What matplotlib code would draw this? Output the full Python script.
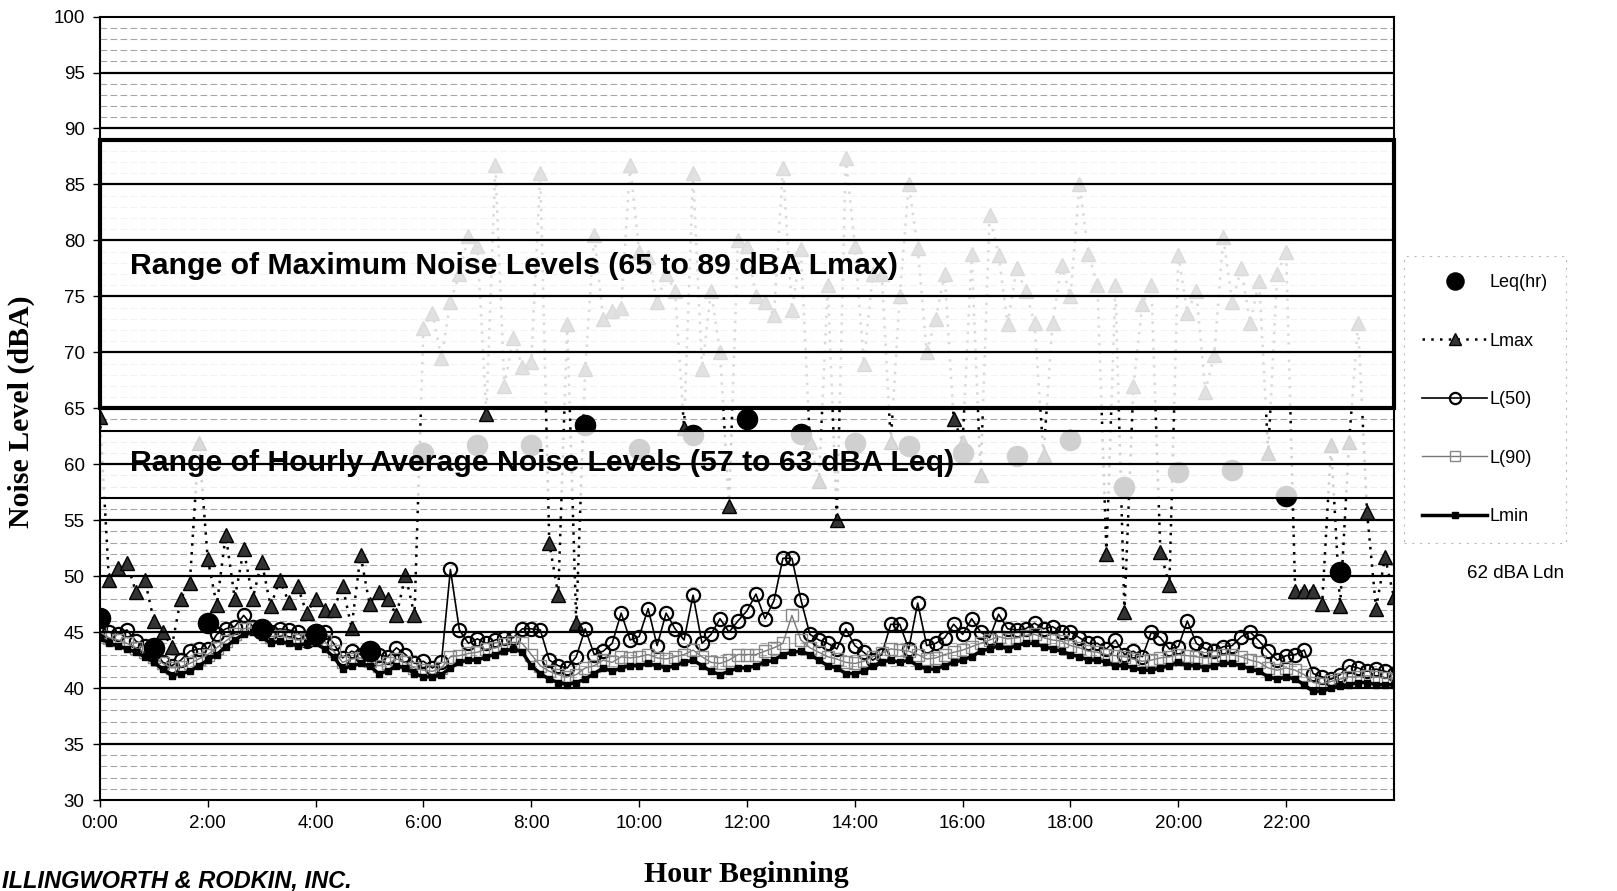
import matplotlib.pyplot as plt
import numpy as np
from matplotlib.patches import Rectangle

# 10-minute samples, 0:00 .. 24:00
sample_min = np.arange(0, 24 * 60 + 1, 10)

lmax = [64.2, 49.7, 50.7, 51.2, 48.6, 49.7, 46.0, 45.0, 43.7, 48.0, 49.4, 61.9,
        51.5, 47.4, 53.7, 48.0, 52.4, 48.0, 51.3, 47.3, 49.7, 47.7, 49.1, 46.7,
        48.0, 47.0, 47.0, 49.1, 45.4, 51.9, 47.5, 48.6, 48.0, 46.5, 50.1, 46.5,
        72.2, 73.5, 69.5, 74.5, 77.0, 80.4, 79.5, 64.5, 86.7, 67.0, 71.3, 68.7,
        69.1, 86.0, 53.0, 48.3, 72.5, 45.8, 68.5, 80.5, 73.0, 73.7, 74.0, 86.7,
        79.0, 78.5, 74.5, 77.0, 75.5, 63.2, 86.0, 68.5, 75.5, 70.0, 56.3, 80.0,
        79.5, 75.0, 74.5, 73.3, 86.5, 73.8, 79.2, 62.0, 58.5, 76.0, 55.0, 87.4,
        79.5, 69.0, 77.0, 77.0, 62.0, 75.0, 85.0, 79.3, 70.0, 73.0, 77.0, 64.0,
        62.0, 78.8, 59.0, 82.3, 78.7, 72.5, 77.5, 75.5, 72.6, 60.8, 72.6, 77.8,
        75.0, 85.0, 78.8, 76.0, 52.0, 76.0, 46.8, 67.0, 74.3, 76.0, 52.2, 49.2,
        78.7, 73.5, 75.5, 66.5, 69.8, 80.3, 74.5, 77.5, 72.6, 76.4, 61.0, 77.0,
        79.0, 48.7, 48.7, 48.7, 47.5, 61.7, 47.3, 62.0, 72.6, 55.7, 47.1, 51.7, 48.1]

l50 = [45.5, 45.0, 44.8, 45.2, 44.2, 43.8, 43.5, 42.3, 42.0, 42.5, 43.3, 43.5,
       43.5, 44.8, 45.3, 45.5, 46.5, 45.5, 45.3, 45.0, 45.3, 45.2, 45.0, 44.2,
       45.1, 45.0, 44.0, 42.7, 43.3, 43.0, 42.5, 43.0, 42.8, 43.6, 43.0, 42.2,
       42.4, 41.8, 42.3, 50.6, 45.2, 44.0, 44.4, 44.0, 44.3, 44.5, 44.5, 45.3,
       45.3, 45.2, 42.5, 42.0, 41.8, 42.8, 45.3, 43.0, 43.3, 44.0, 46.7, 44.3,
       44.6, 47.1, 43.8, 46.7, 45.3, 44.3, 48.3, 44.0, 44.8, 46.2, 45.0, 46.0,
       46.9, 48.4, 46.2, 47.8, 51.6, 51.6, 47.9, 44.8, 44.3, 44.0, 43.5, 45.3,
       43.8, 43.2, 42.5, 43.0, 45.7, 45.7, 43.5, 47.6, 43.8, 44.0, 44.5, 45.7,
       44.8, 46.2, 45.0, 44.5, 46.6, 45.3, 45.2, 45.3, 45.8, 45.3, 45.5, 45.0,
       45.0, 44.5, 44.0, 44.0, 43.5, 44.3, 43.0, 43.3, 42.8, 45.0, 44.5, 43.5,
       43.7, 46.0, 44.0, 43.5, 43.3, 43.7, 43.8, 44.6, 45.0, 44.2, 43.3, 42.5,
       42.9, 43.0, 43.4, 41.3, 41.0, 40.8, 41.2, 42.0, 41.8, 41.5, 41.7, 41.5, 41.3]

l90 = [45.0, 44.5, 44.3, 44.0, 43.6, 43.2, 42.8, 42.2, 41.8, 41.9, 42.2, 42.6,
       43.0, 43.6, 44.2, 44.8, 45.3, 45.4, 45.0, 44.6, 44.7, 44.5, 44.3, 44.4,
       44.5, 44.2, 43.3, 42.3, 42.6, 42.7, 42.4, 42.0, 42.2, 42.6, 42.3, 41.8,
       41.6, 41.5, 41.8, 42.8, 42.9, 43.1, 43.2, 43.5, 43.6, 43.9, 44.1, 44.0,
       43.0, 42.0, 41.5, 41.2, 41.0, 41.2, 41.8, 42.0, 42.5, 42.3, 42.8, 42.7,
       42.8, 43.0, 42.7, 42.6, 42.8, 43.0, 43.4, 42.8, 42.3, 42.2, 42.5, 43.0,
       43.0, 43.0, 43.3, 43.6, 44.0, 46.5, 44.3, 43.6, 43.2, 42.8, 42.6, 42.3,
       42.2, 42.4, 42.8, 43.1, 43.5, 43.4, 43.3, 43.0, 42.6, 42.7, 43.0, 43.2,
       43.4, 43.7, 44.0, 44.3, 44.6, 44.4, 44.5, 44.7, 44.8, 44.5, 44.3, 44.2,
       43.8, 43.6, 43.3, 43.2, 43.0, 42.9, 42.8, 42.6, 42.4, 42.5, 42.7, 42.8,
       43.0, 42.9, 42.8, 42.7, 42.8, 43.0, 43.0, 42.8, 42.5, 42.3, 41.8, 41.6,
       41.8, 41.6, 41.2, 40.5, 40.4, 40.6, 40.8, 41.0, 41.0, 41.1, 41.0, 40.9, 40.8]

lmin = [44.5, 44.0, 43.8, 43.5, 43.2, 42.8, 42.3, 41.7, 41.1, 41.3, 41.5, 42.0,
        42.5, 43.0, 43.7, 44.3, 44.8, 45.0, 44.6, 44.0, 44.2, 44.0, 43.8, 44.0,
        44.0, 43.5, 42.8, 41.7, 42.0, 42.2, 42.0, 41.3, 41.5, 42.0, 41.8, 41.3,
        41.0, 41.0, 41.2, 41.8, 42.3, 42.5, 42.5, 42.8, 43.0, 43.3, 43.5, 43.2,
        42.0, 41.3, 40.8, 40.5, 40.3, 40.5, 40.8, 41.3, 41.8, 41.5, 41.8, 42.0,
        42.0, 42.2, 42.0, 41.8, 42.0, 42.3, 42.5, 42.0, 41.5, 41.2, 41.5, 41.8,
        41.8, 42.0, 42.3, 42.5, 43.0, 43.2, 43.3, 43.0, 42.5, 42.0, 41.8, 41.3,
        41.3, 41.5, 42.0, 42.3, 42.5, 42.3, 42.5, 42.0, 41.7, 41.7, 42.0, 42.3,
        42.5, 42.8, 43.3, 43.5, 43.8, 43.5, 43.8, 44.0, 44.0, 43.7, 43.5, 43.3,
        43.0, 42.8, 42.5, 42.5, 42.3, 42.0, 42.0, 41.8, 41.6, 41.6, 41.8, 42.0,
        42.3, 42.0, 42.0, 41.8, 42.0, 42.2, 42.2, 42.0, 41.7, 41.5, 41.0, 40.8,
        41.0, 40.8, 40.3, 39.7, 39.7, 40.0, 40.2, 40.3, 40.5, 40.5, 40.3, 40.3, 40.3]

# hourly Leq, plotted at the start of each hour
leq_hour = list(range(24))
leq = [46.3, 43.6, 45.8, 45.3, 44.8, 43.3, 61.0, 61.7, 61.7, 63.5, 61.4, 62.6,
       64.0, 62.7, 61.9, 61.6, 61.0, 60.7, 62.2, 58.0, 59.3, 59.5, 57.2, 50.4]

lmax_range = (65, 89)
leq_range = (57, 63)
ldn = 62

hour_ticks = list(range(0, 24, 2))
hour_labels = [f"{h}:00" for h in hour_ticks]

plt.rcParams['font.family'] = ['Liberation Sans', 'DejaVu Sans']

fig = plt.figure(figsize=(16.17, 8.91), dpi=100)
ax = fig.add_axes([0.0618, 0.1021, 0.8003, 0.8793])

x = sample_min / 60.0

ax.plot(leq_hour, leq, 'o', color='black', ms=14.5, zorder=3, label='Leq(hr)')
ax.plot(x, lmax, color='black', ls=(0, (1, 2.5)), lw=1.8, marker='^', ms=10,
        mfc='#333333', mec='black', zorder=2, label='Lmax')
ax.plot(x, l50, color='black', lw=1.2, marker='o', ms=9.5, mfc='none',
        mec='black', mew=1.6, zorder=2.2, label='L(50)')
ax.plot(x, l90, color='#777777', lw=1.0, marker='s', ms=8, mfc='none',
        mec='#888888', mew=1.0, zorder=2.4, label='L(90)')
ax.plot(x, lmin, color='black', lw=2.5, marker='s', ms=5, zorder=2.6, label='Lmin')

# range boxes, washing out what lies under them
ax.add_patch(Rectangle((0, lmax_range[0]), 24, lmax_range[1] - lmax_range[0],
                       facecolor=(1, 1, 1, 0.86), edgecolor='black', lw=3,
                       zorder=4, clip_on=False))
ax.add_patch(Rectangle((0, leq_range[0]), 24, leq_range[1] - leq_range[0],
                       facecolor=(1, 1, 1, 0.82), edgecolor='black', lw=1.5,
                       zorder=4))

ax.text(0.55, 77.7, f"Range of Maximum Noise Levels ({lmax_range[0]} to {lmax_range[1]} dBA Lmax)",
        fontsize=21.8, fontweight='bold', va='center', ha='left', zorder=5)
ax.text(0.55, 60.1, f"Range of Hourly Average Noise Levels ({leq_range[0]} to {leq_range[1]} dBA Leq)",
        fontsize=21.8, fontweight='bold', va='center', ha='left', zorder=5)

ax.set_xlim(0, 24)
ax.set_ylim(30, 100)
ax.set_yticks(np.arange(30, 101, 5))
ax.set_yticks(np.arange(30, 101, 1), minor=True)
ax.set_xticks(hour_ticks)
ax.set_xticklabels(hour_labels)

# light minor grid under everything, heavy major lines on top
ax.set_axisbelow(True)
ax.grid(which='minor', axis='y', color='#a5a5a5', ls=(0, (6, 3)), lw=0.8)
for yv in ax.get_yticks()[1:-1]:
    ax.axhline(yv, color='black', lw=1.6, zorder=6)

ax.tick_params(axis='both', which='major', labelsize=13.5, length=5, width=1,
               direction='out', colors='black', pad=6)
ax.tick_params(axis='y', which='minor', length=0)
for s in ax.spines.values():
    s.set_linewidth(1.5)
    s.set_color('black')
    s.set_zorder(6)

fig.text(21 / 1617, 1 - 412 / 891, 'Noise Level (dBA)', rotation=90, ha='center', va='center',
         fontsize=21.5, fontweight='bold', family='Liberation Serif')
fig.text(746 / 1617, 16 / 891, 'Hour Beginning', ha='center', va='center',
         fontsize=21.5, fontweight='bold', family='Liberation Serif')

leg = fig.legend(loc='upper left', bbox_to_anchor=(1404 / 1617, 1 - 256 / 891),
                 fontsize=13, frameon=True, labelspacing=2.3, handlelength=3.6,
                 handletextpad=0.15, borderpad=1.0, borderaxespad=0, fancybox=False,
                 edgecolor='#aaaaaa', markerscale=0.85)
leg.get_frame().set_linestyle((0, (2, 5)))
leg.get_frame().set_linewidth(0.8)

fig.text(1516 / 1617, 1 - 573 / 891, f"{ldn} dBA Ldn", ha='center', va='center', fontsize=13.5)

fig.text(0.001, 0.004, 'ILLINGWORTH & RODKIN, INC.', fontsize=17,
         fontweight='bold', style='italic', va='baseline')

fig.savefig('out.png', dpi=100)
